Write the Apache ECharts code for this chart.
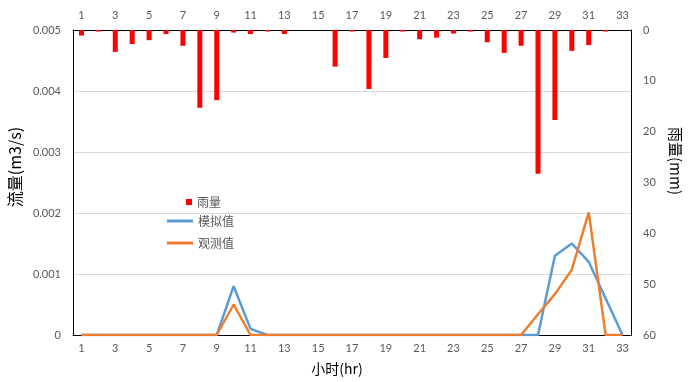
<!DOCTYPE html>
<html><head><meta charset="utf-8">
<script src="https://cdn.jsdelivr.net/npm/echarts@6/dist/echarts.min.js"></script>
<style>html,body{margin:0;padding:0;background:#fff}#c{width:692px;height:382px}</style>
</head><body><div id="c"></div>
<script>
const hours = ['1','2','3','4','5','6','7','8','9','10','11','12','13','14','15','16','17','18','19','20','21','22','23','24','25','26','27','28','29','30','31','32','33'];
const rainfall = [1.1,0.3,4.3,2.75,2.0,0.8,3.1,15.3,13.8,0.5,0.8,0.3,0.8,0,0,7.2,0.3,11.6,5.5,0.3,1.8,1.5,0.7,0.3,2.4,4.5,3.1,28.3,17.7,4.1,2.95,0.3,0];
const simulated = [0,0,0,0,0,0,0,0,0,0.0008,0.0001,0,0,0,0,0,0,0,0,0,0,0,0,0,0,0,0,0,0.0013,0.0015,0.0012,0.0006,0];
const observed = [0,0,0,0,0,0,0,0,0,0.0005,0,0,0,0,0,0,0,0,0,0,0,0,0,0,0,0,0,0.00034,0.00067,0.00107,0.00201,0,0];

const FONT = 'Lato, "Noto Sans CJK SC", sans-serif';
const CJK = '"Noto Sans CJK SC", sans-serif';
const labelColor = '#595959';
const chart = echarts.init(document.getElementById('c'), null, {renderer:'canvas'});
chart.setOption({
  animation: false,
  backgroundColor: '#fff',
  textStyle: {fontFamily: FONT},
  grid: {left: 73, right: 61, top: 30, bottom: 47, containLabel: false},
  legend: [
    {data: [{name:'雨量', icon:'rect'}], left: 181, top: 191, itemWidth: 6, itemHeight: 6,
     textStyle: {fontFamily: CJK, fontSize: 12, color: labelColor}},
    {data: [{name:'模拟值', icon:'rect'}, {name:'观测值', icon:'rect'}], orient: 'vertical', left: 162, top: 210,
     itemWidth: 26, itemHeight: 3, itemGap: 10,
     textStyle: {fontFamily: CJK, fontSize: 12, color: labelColor}}
  ],
  xAxis: [
    {type:'category', data: hours, position:'bottom', boundaryGap: true,
     axisLine:{show:true, onZero:false, lineStyle:{color:'#000', width:1}}, axisTick:{show:false},
     axisLabel:{interval:1, color: labelColor, fontSize: 11, margin: 8, fontFamily: FONT}},
    {type:'category', data: hours, position:'top', boundaryGap: true,
     axisLine:{show:true, onZero:false, lineStyle:{color:'#000', width:1}}, axisTick:{show:false},
     axisLabel:{interval:1, color: labelColor, fontSize: 11, margin: 9, fontFamily: FONT}}
  ],
  yAxis: [
    {type:'value', min:0, max:0.005, interval:0.001, position:'left',
     axisLine:{show:true, lineStyle:{color:'#000', width:1}}, axisTick:{show:false},
     splitLine:{show:true, lineStyle:{color:'#d9d9d9', width:1}},
     axisLabel:{color: labelColor, fontSize: 11, margin: 12, fontFamily: FONT,
       formatter: v => v === 0 ? '0' : v.toFixed(3)}},
    {type:'value', min:0, max:60, interval:10, position:'right', inverse:true,
     axisLine:{show:true, lineStyle:{color:'#000', width:1}}, axisTick:{show:false},
     splitLine:{show:false},
     axisLabel:{color: labelColor, fontSize: 11, margin: 12, fontFamily: FONT}}
  ],
  series: [
    {name:'雨量', type:'bar', xAxisIndex:1, yAxisIndex:1, data: rainfall, barWidth: 5,
     itemStyle:{color:'#ff0000'}},
    {name:'模拟值', type:'line', xAxisIndex:0, yAxisIndex:0, data: simulated, symbol:'none',
     lineStyle:{color:'#5b9bd5', width:2.5}, itemStyle:{color:'#5b9bd5'}},
    {name:'观测值', type:'line', xAxisIndex:0, yAxisIndex:0, data: observed, symbol:'none',
     lineStyle:{color:'#ed7d31', width:2.5}, itemStyle:{color:'#ed7d31'}}
  ],
  graphic: [
    {type:'text', x:15, y:167, rotation: Math.PI/2,
     style:{text:'流量(m3/s)', fill:'#000', font:'16px ' + CJK, textAlign:'center', textVerticalAlign:'middle'}},
    {type:'text', x:676, y:161, rotation: -Math.PI/2,
     style:{text:'雨量(mm)', fill:'#000', font:'15px ' + CJK, textAlign:'center', textVerticalAlign:'middle'}},
    {type:'text', x:337, y:369,
     style:{text:'小时(hr)', fill:'#000', font:'14px ' + CJK, textAlign:'center', textVerticalAlign:'middle'}}
  ]
});
</script></body></html>
